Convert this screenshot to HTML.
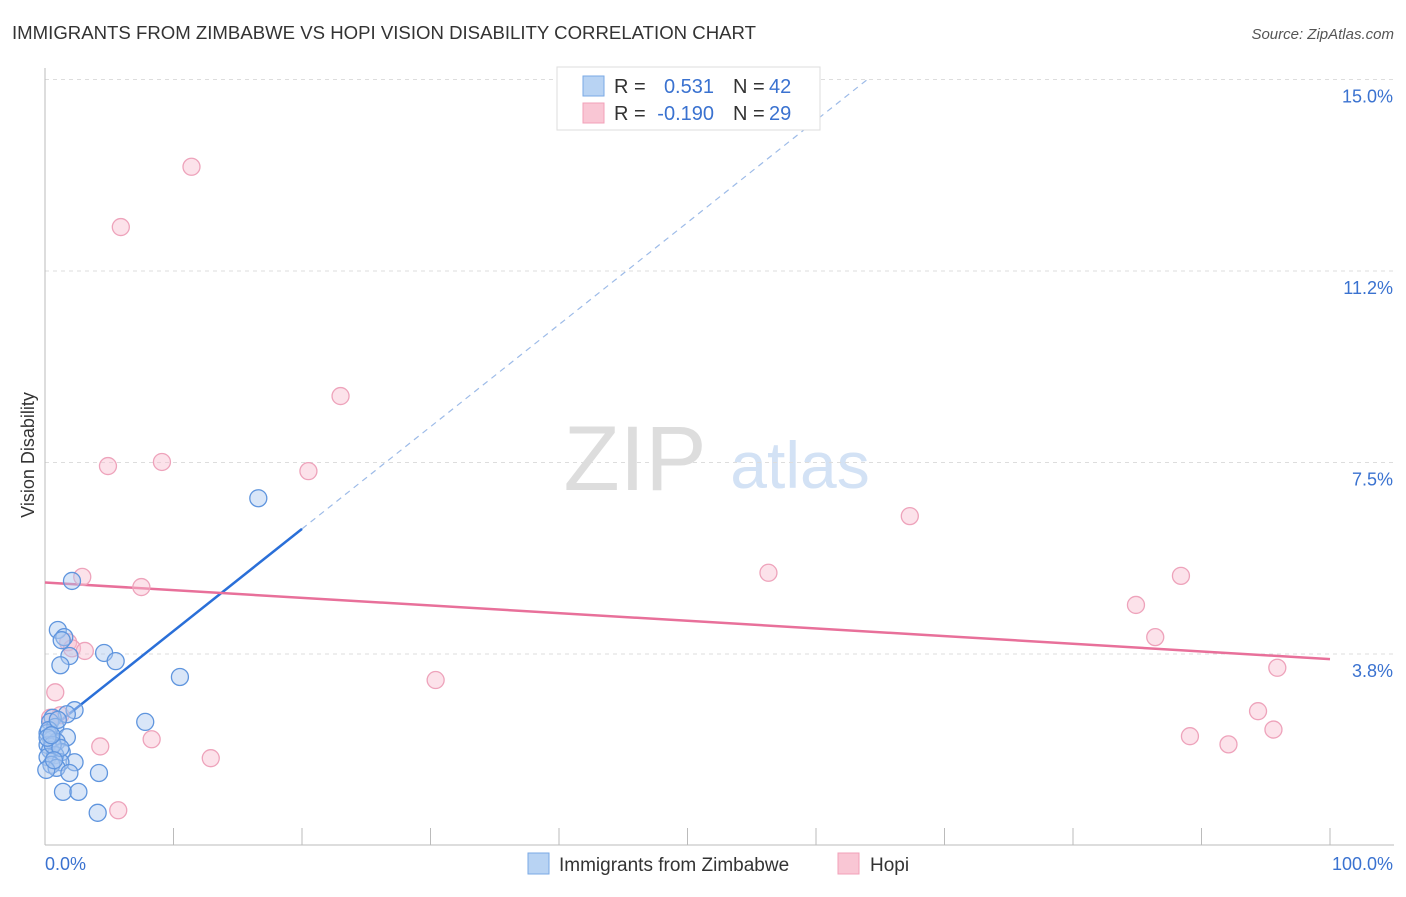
<!DOCTYPE html>
<html><head><meta charset="utf-8"><style>
body{margin:0;background:#fff;font-family:"Liberation Sans",sans-serif;}
svg text{font-family:"Liberation Sans",sans-serif;}
</style></head><body>
<svg id="chart" width="1406" height="892" viewBox="0 0 1406 892" xmlns="http://www.w3.org/2000/svg">
<text x="12" y="39" font-size="18" fill="#333" textLength="744" lengthAdjust="spacingAndGlyphs">IMMIGRANTS FROM ZIMBABWE VS HOPI VISION DISABILITY CORRELATION CHART</text>
<text x="1394" y="39" font-size="15" fill="#555" text-anchor="end" font-style="italic">Source: ZipAtlas.com</text>
<g>
<text x="635" y="490" font-size="92" fill="#ddd" text-anchor="middle" font-family="Liberation Serif,serif">ZIP</text>
<text x="800" y="488" font-size="66" fill="#d3e2f5" text-anchor="middle">atlas</text>
</g>
<g id="grid"></g>
<g id="axes"></g>
<text transform="translate(34,455) rotate(-90)" font-size="18" fill="#333" text-anchor="middle">Vision Disability</text>
<g id="lines"></g>
<g id="points"></g>
<g>
<rect x="557" y="67" width="263" height="63" fill="#fff" stroke="#ddd"/>
<rect x="583" y="76" width="21" height="20" fill="#b8d3f3" stroke="#7aaae6"/>
<rect x="583" y="103" width="21" height="20" fill="#f9c6d4" stroke="#f2a0b8"/>
<text x="614" y="93" font-size="20" fill="#333">R =</text>
<text x="714" y="93" font-size="20" fill="#3a72d0" text-anchor="end">0.531</text>
<text x="733" y="93" font-size="20" fill="#333">N =</text>
<text x="769" y="93" font-size="20" fill="#3a72d0">42</text>
<text x="614" y="120" font-size="20" fill="#333">R =</text>
<text x="714" y="120" font-size="20" fill="#3a72d0" text-anchor="end">-0.190</text>
<text x="733" y="120" font-size="20" fill="#333">N =</text>
<text x="769" y="120" font-size="20" fill="#3a72d0">29</text>
</g>
<g>
<rect x="528" y="853" width="21" height="21" fill="#b8d3f3" stroke="#7aaae6"/>
<text x="559" y="871" font-size="19" fill="#333">Immigrants from Zimbabwe</text>
<rect x="838" y="853" width="21" height="21" fill="#f9c6d4" stroke="#f2a0b8"/>
<text x="870" y="871" font-size="19" fill="#333">Hopi</text>
</g>
</svg>
<script>
const yTicks=[3.75,7.5,11.25,15];
const yTickLabels=["3.8%","7.5%","11.2%","15.0%"];
const xTickLabels=["0.0%","100.0%"];
const blueX=[2.1,1.0,1.5,1.3,1.9,1.2,4.6,5.5,10.5,16.6,7.8,2.3,1.7,0.6,0.4,0.8,0.2,1.7,0.5,0.9,0.2,0.4,1.3,0.8,0.2,2.3,1.2,0.5,0.9,1.9,4.2,1.4,2.6,4.1,0.1,0.3,1.0,0.6,0.2,1.2,0.7,0.5];
const blueY=[5.18,4.22,4.08,4.02,3.71,3.53,3.77,3.61,3.30,6.80,2.42,2.65,2.57,2.50,2.42,2.32,2.20,2.12,2.07,2.03,1.97,1.87,1.83,1.77,1.73,1.63,1.63,1.58,1.52,1.42,1.42,1.05,1.05,0.64,1.48,2.26,2.46,1.97,2.11,1.91,1.67,2.16];
const pinkX=[11.4,5.9,23.0,4.9,9.1,20.5,67.3,56.3,2.9,7.5,88.4,84.9,86.4,95.9,1.8,2.1,3.1,0.8,1.2,0.4,30.4,94.4,89.1,95.6,92.1,4.3,8.3,12.9,5.7];
const pinkY=[13.29,12.11,8.80,7.43,7.51,7.33,6.45,5.34,5.26,5.06,5.28,4.71,4.08,3.48,3.98,3.86,3.81,3.00,2.55,2.50,3.24,2.63,2.14,2.27,1.98,1.94,2.08,1.71,0.69];
const blueTrend=[2.20,0.200];
const pinkTrend=[5.15,-0.015];
const NS="http://www.w3.org/2000/svg";
const X=v=>45+v*12.85, Y=v=>845.5-v*51.07;
function mk(t,a,p){const e=document.createElementNS(NS,t);for(const k in a)e.setAttribute(k,a[k]);p.appendChild(e);return e;}
const grid=document.getElementById('grid'),axes=document.getElementById('axes');
yTicks.forEach((t,i)=>{
 const l=mk('line',{x1:45,x2:1394,y1:Y(t),y2:Y(t),stroke:'#ddd','stroke-dasharray':'4,4'},grid);
 
 
 const tx=mk('text',{x:1393,y:Y(t)+23,'font-size':18,fill:'#3a72d0','text-anchor':'end'},axes);
 tx.textContent=yTickLabels[i];
 
 
});
mk('line',{x1:45,x2:45,y1:68,y2:845,stroke:'#bbb'},axes);
mk('line',{x1:45,x2:1394,y1:845,y2:845,stroke:'#bbb'},axes);
for(let i=0;i<=10;i++){const t=mk('line',{x1:X(i*10),x2:X(i*10),y1:828,y2:845,stroke:'#bbb'},axes);
 
 }
[[0,45,'start'],[100,1393,'end']].forEach((d,i)=>{const t=mk('text',{x:d[1],y:870,'font-size':18,fill:'#3a72d0','text-anchor':d[2]},axes);t.textContent=xTickLabels[i];
 
 });
const lines=document.getElementById('lines');
const bEnd=(15-blueTrend[0])/blueTrend[1];
const bd=mk('line',{x1:X(20),y1:Y(blueTrend[0]+20*blueTrend[1]),x2:X(bEnd),y2:Y(15),stroke:'#9dbbe8','stroke-width':1.2,'stroke-dasharray':'6,5'},lines);


const bs=mk('line',{x1:X(0),y1:Y(blueTrend[0]),x2:X(20),y2:Y(blueTrend[0]+20*blueTrend[1]),stroke:'#2a6fd8','stroke-width':2.5},lines);


const ps=mk('line',{x1:X(0),y1:Y(pinkTrend[0]),x2:X(100),y2:Y(pinkTrend[0]+100*pinkTrend[1]),stroke:'#e8709a','stroke-width':2.5},lines);


const pts=document.getElementById('points');
pinkX.forEach((x,i)=>{const c=mk('circle',{cx:X(x),cy:Y(pinkY[i]),r:8.5,fill:'rgba(249,190,208,0.45)',stroke:'#eea3bb','stroke-width':1.3},pts);
 
 });
blueX.forEach((x,i)=>{const c=mk('circle',{cx:X(x),cy:Y(blueY[i]),r:8.5,fill:'rgba(170,200,240,0.45)',stroke:'#5f95de','stroke-width':1.3},pts);
 
 });
</script>
</body></html>
